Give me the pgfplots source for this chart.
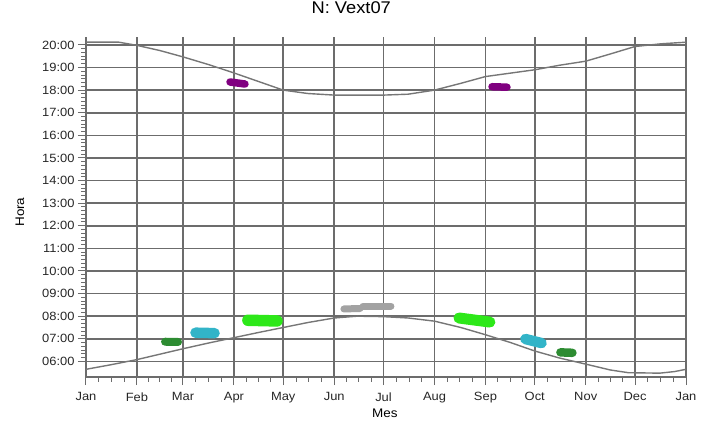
\documentclass[border=0pt]{standalone}
\usepackage{pgfplots}
\pgfplotsset{compat=1.18}
\usepackage{fontspec}
\setmainfont{Liberation Sans}[FakeStretch=1.08]
\definecolor{gridc}{RGB}{108,108,108}
\definecolor{curvec}{RGB}{118,118,118}
\definecolor{cpurple}{RGB}{128,0,128}
\definecolor{cdkgreen}{RGB}{45,140,50}
\definecolor{ccyan}{RGB}{50,180,200}
\definecolor{cgreen}{RGB}{45,232,25}
\definecolor{cgray}{RGB}{162,162,162}
\begin{document}
\begin{tikzpicture}
\useasboundingbox (-86bp,-50bp) rectangle (630bp,377bp);
\begin{axis}[
  at={(0,0)}, anchor=south west,
  scale only axis, width=600bp, height=340bp,
  xmin=0, xmax=365, ymin=5.31, ymax=20.35,
  axis x line*=bottom, axis y line*=left,
  axis line style={gridc, line width=1.5bp},
  tick align=outside,
  major tick length=8bp, minor tick length=4.5bp,
  every tick/.style={gridc, line width=1bp},
  xtick={0,31,59,90,120,151,181,212,243,273,304,334,365},
  xticklabels={Jan,Feb,Mar,Apr,May,Jun,Jul,Aug,Sep,Oct,Nov,Dec,Jan},
  minor xtick={7.75,15.5,23.25,38,45,52,66.75,74.5,82.25,97.5,105,112.5,127.75,135.5,143.25,158.5,166,173.5,188.75,196.5,204.25,219.75,227.5,235.25,250.5,258,265.5,280.75,288.5,296.25,311.5,319,326.5,341.75,349.5,357.25},
  ytick={6,7,8,9,10,11,12,13,14,15,16,17,18,19,20},
  yticklabels={06:00,07:00,08:00,09:00,10:00,11:00,12:00,13:00,14:00,15:00,16:00,17:00,18:00,19:00,20:00},
  minor y tick num=5,
  grid=major,
  major grid style={gridc, line width=1.6bp},
  minor grid style={draw=none},
  tick label style={font=\fontsize{12}{14}\selectfont, text=black!85},
  xticklabel style={yshift=-4bp},
  title={N: Vext07},
  title style={font=\fontsize{17}{20}\selectfont, at={(axis description cs:0.442,1)}, anchor=south, yshift=13.5bp},
  xlabel={Mes},
  xlabel style={font=\fontsize{12.5}{14}\selectfont, at={(axis description cs:0.498,-0.106)}, anchor=center},
  ylabel={Hora},
  ylabel style={font=\fontsize{12.5}{14}\selectfont, at={(axis description cs:-0.11,0.485)}, anchor=center},
]
% sunset curve
\addplot[curvec, line width=1.4bp] coordinates {
(0,20.12) (20,20.12) (31,19.98) (45,19.75) (59,19.47) (75,19.12) (90,18.76)
(105,18.38) (120,18.0) (135,17.85) (151,17.78) (181,17.78) (196,17.82)
(212,18.0) (228,18.3) (243,18.6) (258,18.75) (273,18.9) (288,19.1)
(304,19.28) (319,19.6) (334,19.93) (350,20.05) (365,20.12)};
% sunrise curve
\addplot[curvec, line width=1.4bp] coordinates {
(0,5.65) (15,5.85) (31,6.08) (45,6.32) (59,6.56) (75,6.82) (90,7.05)
(105,7.28) (120,7.5) (135,7.72) (151,7.92) (165,8.0) (181,7.98) (196,7.92)
(212,7.78) (228,7.5) (243,7.18) (258,6.84) (273,6.46) (288,6.15)
(304,5.88) (319,5.62) (330,5.5) (349,5.48) (358,5.55) (365,5.65)};
% observation clusters
\addplot[cpurple, line width=7.5bp, line cap=round] coordinates {(87.6,18.36) (96.7,18.27)};
\addplot[cpurple, line width=7.5bp, line cap=round] coordinates {(247,18.15) (256.1,18.13)};
\addplot[cdkgreen, line width=8bp, line cap=round] coordinates {(48.1,6.87) (56.0,6.86)};
\addplot[ccyan, line width=10.5bp, line cap=round] coordinates {(66.6,7.27) (78.2,7.25)};
\addplot[cgreen, line width=11.5bp, line cap=round] coordinates {(98.5,7.82) (116.2,7.79)};
\addplot[cgray, line width=7bp, line cap=round] coordinates {(156.9,8.32) (166.7,8.34)};
\addplot[cgray, line width=7bp, line cap=round] coordinates {(168.5,8.45) (185.5,8.45)};
\addplot[cgreen, line width=11bp, line cap=round] coordinates {(226.9,7.92) (245.7,7.74)};
\addplot[ccyan, line width=10.5bp, line cap=round] coordinates {(267.3,6.99) (277.1,6.81)};
\addplot[cdkgreen, line width=8.5bp, line cap=round] coordinates {(288.6,6.40) (295.9,6.38)};
\end{axis}
\end{tikzpicture}
\end{document}
